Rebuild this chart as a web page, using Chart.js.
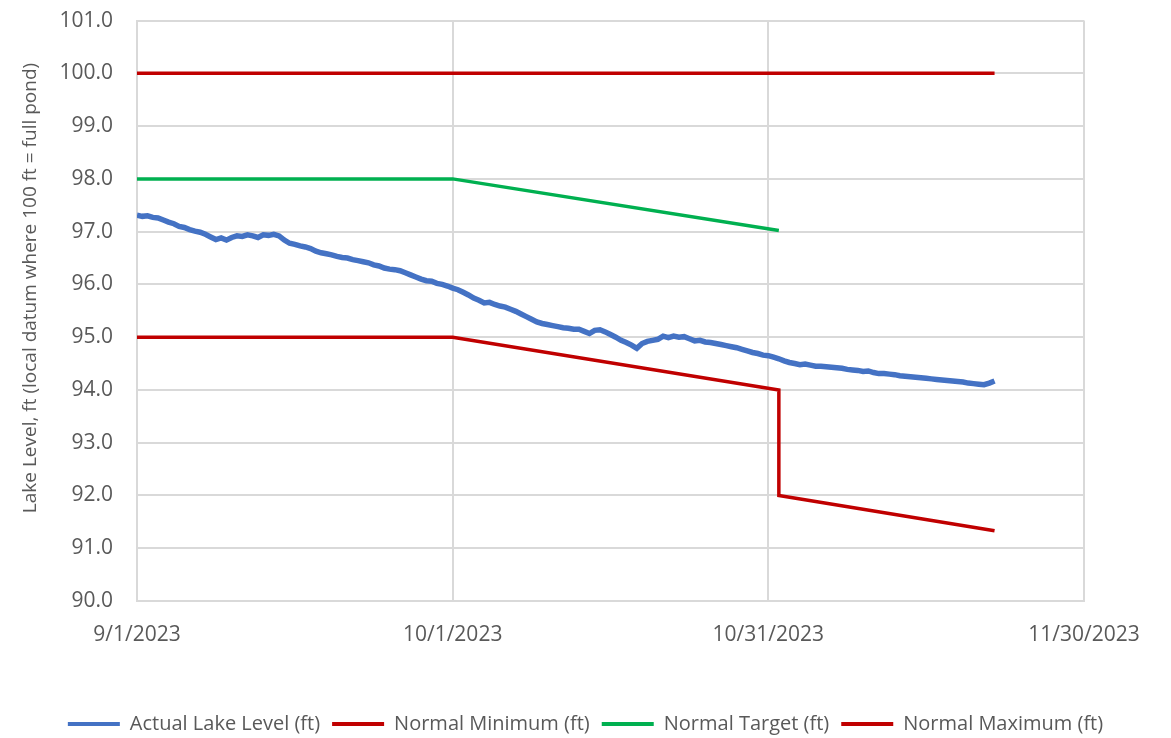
<!DOCTYPE html>
<html>
<head>
<meta charset="utf-8">
<script src="https://cdn.jsdelivr.net/npm/chart.js@4.4.1/dist/chart.umd.min.js"></script>
<style>
  html, body { margin: 0; padding: 0; background: #fff; overflow: hidden; }
  #wrap { width: 1171px; height: 760px; margin-top: -16px; }
</style>
</head>
<body>
<div id="wrap"><canvas id="lakeChart"></canvas></div>
<script>
// eixo x em dias desde 9/1/2023
const xTickLabels = ['9/1/2023', '10/1/2023', '10/31/2023', '11/30/2023'];
const yAxisTitle = 'Lake Level, ft (local datum where 100 ft = full pond)';

// nível real do lago, um valor a cada meio dia a partir de 9/1
const levelStepDays = 0.5;
const actualLevel = [
  97.31, 97.29, 97.30, 97.27, 97.26, 97.22, 97.18, 97.15, 97.10, 97.08,
  97.04, 97.01, 96.99, 96.95, 96.90, 96.85, 96.88, 96.84, 96.89, 96.92,
  96.91, 96.94, 96.92, 96.89, 96.94, 96.93, 96.95, 96.92, 96.84, 96.78,
  96.76, 96.73, 96.71, 96.68, 96.63, 96.60, 96.58, 96.56, 96.53, 96.51,
  96.50, 96.47, 96.45, 96.43, 96.41, 96.37, 96.35, 96.31, 96.29, 96.28,
  96.26, 96.22, 96.18, 96.14, 96.10, 96.07, 96.06, 96.02, 96.00, 95.97,
  95.93, 95.90, 95.85, 95.80, 95.74, 95.70, 95.65, 95.66, 95.62, 95.59,
  95.57, 95.53, 95.49, 95.44, 95.39, 95.34, 95.29, 95.26, 95.24, 95.22,
  95.20, 95.18, 95.17, 95.15, 95.15, 95.11, 95.07, 95.13, 95.14, 95.10,
  95.05, 95.00, 94.94, 94.90, 94.85, 94.79, 94.88, 94.92, 94.94, 94.96,
  95.02, 94.99, 95.02, 95.00, 95.01, 94.97, 94.93, 94.94, 94.91, 94.90,
  94.88, 94.86, 94.84, 94.82, 94.80, 94.77, 94.74, 94.71, 94.69, 94.66,
  94.65, 94.62, 94.59, 94.55, 94.52, 94.50, 94.48, 94.49, 94.47, 94.45,
  94.45, 94.44, 94.43, 94.42, 94.41, 94.39, 94.38, 94.37, 94.35, 94.36,
  94.33, 94.31, 94.31, 94.30, 94.29, 94.27, 94.26, 94.25, 94.24, 94.23,
  94.22, 94.21, 94.20, 94.19, 94.18, 94.17, 94.16, 94.15, 94.13, 94.12,
  94.11, 94.10, 94.13, 94.17
];

// limites (dia, valor)
const minDays    = [0, 30, 61, 61, 81.5];
const minValues  = [95.0, 95.0, 94.0, 92.0, 91.33];
const targetDays   = [0, 30, 61];
const targetValues = [98.0, 98.0, 97.02];
const maxDays    = [0, 81.5];
const maxValues  = [100.0, 100.0];

const toPoints = (days, vals) => days.map((d, i) => ({ x: d, y: vals[i] }));

const textColor = '#595959';
const gridColor = '#D9D9D9';
const fontFamily = '"Open Sans", "Liberation Sans", Arial, sans-serif';

// título do eixo y desenhado à mão
const yTitlePlugin = {
  id: 'yTitle',
  afterDraw(chart) {
    const ctx = chart.ctx;
    ctx.save();
    ctx.translate(31, 304);
    ctx.rotate(-Math.PI / 2);
    ctx.fillStyle = textColor;
    ctx.font = '19px ' + fontFamily;
    ctx.textAlign = 'center';
    ctx.textBaseline = 'middle';
    ctx.fillText(yAxisTitle, 0, 0);
    ctx.restore();
  }
};

const ctx = document.getElementById('lakeChart').getContext('2d');
window.chartLake = new Chart(ctx, {
  type: 'line',
  data: {
    datasets: [
      {
        label: 'Actual Lake Level (ft)',
        data: actualLevel.map((v, i) => ({ x: i * levelStepDays, y: v })),
        borderColor: '#4472C4',
        backgroundColor: '#4472C4',
        borderWidth: 5.5,
        pointRadius: 0,
        tension: 0
      },
      {
        label: 'Normal Minimum (ft)',
        data: toPoints(minDays, minValues),
        borderColor: '#C00000',
        backgroundColor: '#C00000',
        borderWidth: 3.5,
        pointRadius: 0
      },
      {
        label: 'Normal Target (ft)',
        data: toPoints(targetDays, targetValues),
        borderColor: '#00B050',
        backgroundColor: '#00B050',
        borderWidth: 3.5,
        pointRadius: 0
      },
      {
        label: 'Normal Maximum (ft)',
        data: toPoints(maxDays, maxValues),
        borderColor: '#C00000',
        backgroundColor: '#C00000',
        borderWidth: 3.5,
        pointRadius: 0
      }
    ]
  },
  options: {
    responsive: true,
    maintainAspectRatio: false,
    animation: false,
    layout: { padding: 0 },
    plugins: {
      tooltip: { enabled: false },
      legend: {
        position: 'bottom',
        labels: {
          color: textColor,
          font: { family: fontFamily, size: 20 },
          boxWidth: 52,
          boxHeight: 4,
          padding: 12,
          generateLabels(chart) {
            return Chart.defaults.plugins.legend.labels.generateLabels(chart).map(l => {
              l.fillStyle = l.strokeStyle;
              l.lineWidth = 0;
              return l;
            });
          }
        }
      }
    },
    scales: {
      x: {
        type: 'linear',
        min: 0,
        max: 90,
        ticks: {
          stepSize: 30,
          color: textColor,
          padding: 21,
          font: { family: fontFamily, size: 21 },
          maxRotation: 0,
          callback: v => xTickLabels[Math.round(v / 30)]
        },
        grid: { color: gridColor, lineWidth: 2, drawTicks: false },
        border: { color: gridColor, width: 2 },
        afterFit: scale => {
          scale.height = 101;
          scale.paddingRight = 87;
        }
      },
      y: {
        min: 90,
        max: 101,
        ticks: {
          stepSize: 1,
          color: textColor,
          padding: 24,
          font: { family: fontFamily, size: 21 },
          callback: v => v.toFixed(1)
        },
        grid: { color: gridColor, lineWidth: 2, drawTicks: false },
        border: { color: gridColor, width: 2 },
        afterFit: scale => { scale.width = 137; }
      }
    }
  },
  plugins: [yTitlePlugin]
});
</script>
</body>
</html>
